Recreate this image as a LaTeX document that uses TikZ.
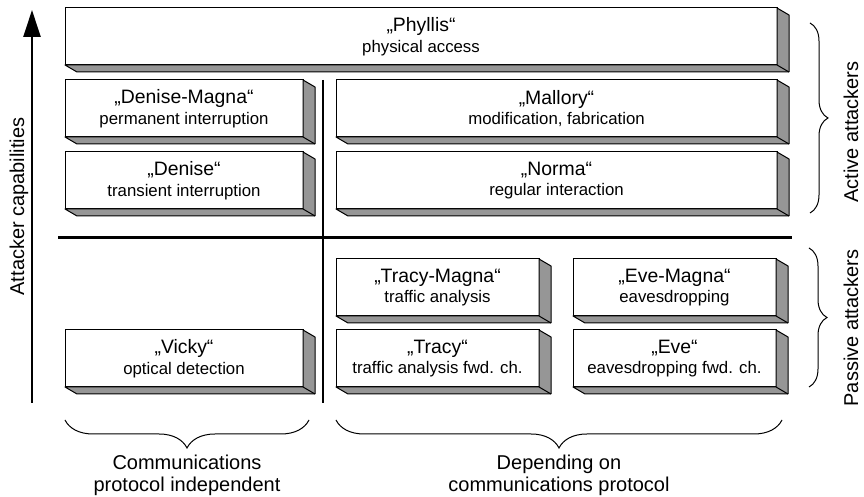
\documentclass[tikz,border=0pt]{standalone}
\usepackage{fontspec}
\setmainfont{Liberation Sans}
\usepackage{xcolor}
\usepackage{tikz}
\usetikzlibrary{arrows.meta, positioning, calc, decorations.pathreplacing}

\definecolor{sidegray}{RGB}{150,150,150}
\newcommand{\desc}[1]{{\fontsize{8.4}{10.35}\selectfont #1}}

\begin{document}
\begin{tikzpicture}[
    node distance=7.5pt,
    box/.style={rectangle, draw, line width=0.5pt, fill=white, minimum height=28.5pt, inner sep=0pt, outer sep=0pt, align=center, font=\fontsize{9.7}{10.35}\selectfont},
    side/.style={fill=sidegray, draw, line width=0.5pt, line join=round},
    sep/.style={line width=1.3pt},
    brc/.style={decorate, decoration={brace, amplitude=#1}, line width=0.5pt},
    lbl/.style={font=\fontsize{10}{11}\selectfont, align=center, inner sep=0pt}
]
\useasboundingbox (0,0) rectangle (432pt,248.5pt);

% active attackers
\node[box, minimum width=356pt] (phyllis) at (210.5pt,230.25pt) {„Phyllis“\\\desc{physical access}};
\node[box, minimum width=119pt, below right=7.5pt and 0pt of phyllis.south west] (deniseM) {„Denise-Magna“\\\desc{permanent interruption}};
\node[box, minimum width=119pt, below=of deniseM] (denise) {„Denise“\\\desc{transient interruption}};
\node[box, minimum width=220.5pt, below left=7.5pt and 0pt of phyllis.south east] (mallory) {„Mallory“\\\desc{modification, fabrication}};
\node[box, minimum width=220.5pt, below=of mallory] (norma) {„Norma“\\\desc{regular interaction}};

% passive attackers
\node[box, minimum width=101.5pt, below right=25pt and 0pt of norma.south west] (tracyM) {„Tracy-Magna“\\\desc{traffic analysis}};
\node[box, minimum width=101.5pt, right=17pt of tracyM] (eveM) {„Eve-Magna“\\\desc{eavesdropping}};
\node[box, minimum width=101.5pt, below=7pt of tracyM] (tracy) {„Tracy“\\\desc{traffic analysis fwd. ch.}};
\node[box, minimum width=101.5pt, below=7pt of eveM] (eve) {„Eve“\\\desc{eavesdropping fwd. ch.}};
\node[box, minimum width=119pt, left=16.5pt of tracy] (vicky) {„Vicky“\\\desc{optical detection}};

% 3d sides
\foreach \n in {phyllis,deniseM,denise,mallory,norma,tracyM,eveM,tracy,eve,vicky}{
  \filldraw[side] (\n.north east) -- ++(6pt,-3.5pt) -- ([shift={(6pt,-3.5pt)}]\n.south east) -- ([shift={(6pt,-3.5pt)}]\n.south west) -- (\n.south west) -- (\n.south east) -- cycle;
  \draw[line width=0.5pt] (\n.south east) -- ++(6pt,-3.5pt);
}

% separators
\coordinate (vtop) at ([xshift=10pt]deniseM.north east);
\coordinate (vbot) at ([yshift=-8pt]vtop |- vicky.south);
\draw[sep] (vtop) -- (vbot);
\draw[sep] ([xshift=-3.5pt,yshift=-14.25pt]denise.south west) -- ([xshift=7.5pt,yshift=-14.25pt]norma.south east);

% capability axis
\coordinate (atop) at ([xshift=-16.5pt,yshift=-1pt]phyllis.north west);
\coordinate (abot) at (atop |- vbot);
\draw[sep, -{Triangle[length=13.5pt,width=8.5pt]}] (abot) -- (atop);
\node[lbl, rotate=90] (cap) at ($(abot)!0.5!(atop)+(-6.5pt,0)$) {Attacker capabilities};

% braces right
\draw[brc=9pt] ([xshift=16.5pt,yshift=-7.5pt]phyllis.north east) -- ([xshift=16.5pt,yshift=-2pt]norma.south east);
\draw[brc=9pt] ([xshift=16.5pt,yshift=5.5pt]eveM.north east) -- ([xshift=16.5pt]eve.south east);
\node[lbl, rotate=90] (active) at ($(mallory.east)+(37pt,-11.75pt)$) {Active attackers};
\node[lbl, rotate=90] (passive) at ($(eve.east)+(37.5pt,15.25pt)$) {Passive attackers};

% braces bottom
\draw[brc=14pt] ([xshift=3pt,yshift=-16.5pt]vicky.south east) -- ([yshift=-16.5pt]vicky.south west);
\draw[brc=14pt] ([xshift=3pt,yshift=-16.5pt]eve.south east) -- ([yshift=-16.5pt]tracy.south west);
\node[lbl, below=17.2pt] (indep) at ($(vicky.south west)!0.5!(vicky.south east)+(1.5pt,-16.5pt)$) {Communications\\protocol independent};
\node[lbl, below=17.2pt] (dep) at ($(tracy.south west)!0.5!(eve.south east)+(1.5pt,-16.5pt)$) {Depending on\\communications protocol};

\end{tikzpicture}
\end{document}
